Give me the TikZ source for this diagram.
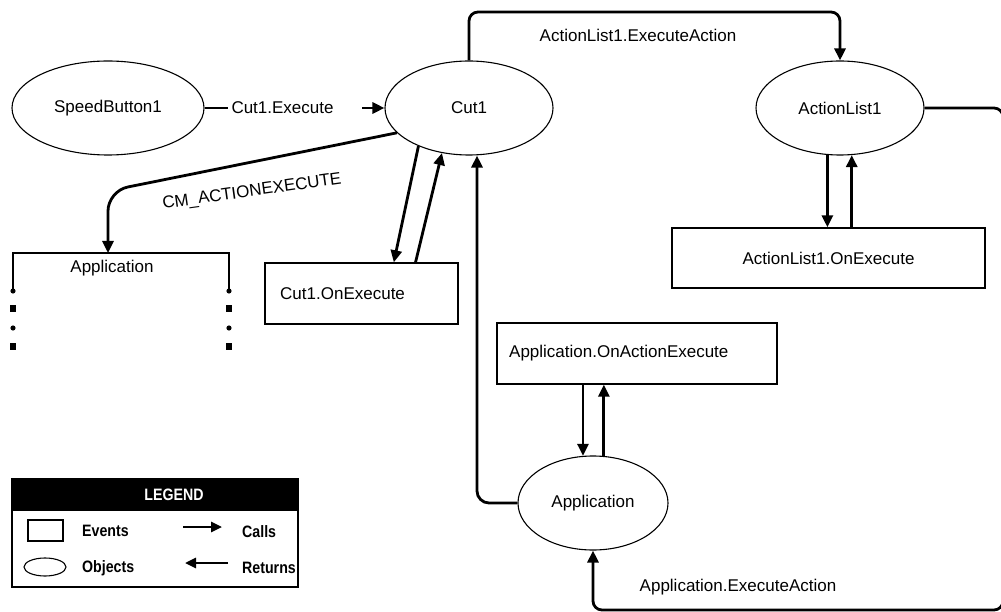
\documentclass[tikz,border=0pt]{standalone}
\usepackage{fontspec}
\setmainfont{Liberation Sans}
\newfontfamily\legfont[FakeStretch=0.86]{Liberation Sans Bold}
\usetikzlibrary{shapes.geometric,arrows.meta}
\tikzset{
  obj/.style={ellipse, draw, line width=1.1pt, inner sep=0pt, font=\fontsize{17}{20}\selectfont},
  evt/.style={rectangle, draw, line width=1.4pt, inner sep=0pt, font=\fontsize{17}{20}\selectfont},
  lbl/.style={inner sep=1pt, font=\fontsize{17}{20}\selectfont},
  conn/.style={line width=2.8pt, -{Triangle[length=12pt,width=11pt]}},
  plain/.style={line width=2.8pt},
  leg/.style={inner sep=0pt, anchor=west, font=\fontsize{16.5}{19}\legfont}
}
\begin{document}
\begin{tikzpicture}[x=1pt,y=-1pt]
\useasboundingbox (0,0) rectangle (1001,612);
\fill[white] (0,0) rectangle (1001,612);

% objects
\node[obj, minimum width=192pt, minimum height=94pt] (sb) at (108,108) {SpeedButton1};
\node[obj, minimum width=168pt, minimum height=94pt] (cut) at (469,108) {Cut1};
\node[obj, minimum width=168pt, minimum height=94pt] (al) at (840,108) {ActionList1};
\node[obj, minimum width=150pt, minimum height=94pt] (app) at (593,503) {Application};

% events
\node[evt, minimum width=193pt, minimum height=61pt] (cutev) at (361.5,293.5) {};
\node[lbl, anchor=west] (cutevt) at (279,294) {Cut1.OnExecute};
\node[evt, minimum width=313pt, minimum height=60pt] (alev) at (828.5,258) {ActionList1.OnExecute};
\node[evt, minimum width=280pt, minimum height=61pt] (appev) at (637,353.5) {};
\node[lbl, anchor=west] (appevt) at (508,353) {Application.OnActionExecute};

% Application bracket (left)
\coordinate (brk) at (108,253);
\draw[plain] (13,291) -- (13,253) -- (229,253) -- (229,291);
\foreach \xx in {13,229}{
  \fill (\xx,291) circle (2.6);
  \fill (\xx-2.6,305) rectangle (\xx+2.6,312);
  \fill (\xx,328) circle (2.6);
  \fill (\xx-2.6,343) rectangle (\xx+2.6,350);
}
\node[lbl] (brkt) at (112,268) {Application};

% SpeedButton1 -> Cut1
\draw[conn] (sb.east) -- node[lbl, fill=white, inner xsep=4pt, text width=126pt, align=left] (exl) {Cut1.Execute} (cut.west);

% Cut1 -> Application (CM_ACTIONEXECUTE)
\draw[conn, rounded corners=20pt] (cut.199) -- (108,191) -- (brk);
\node[lbl, rotate=8] (cml) at (252,192) {CM\_ACTIONEXECUTE};

% Cut1 <-> Cut1.OnExecute
\draw[conn] (cut.217) -- (cutev.44);
\draw[conn] (cutev.30) -- (cut.239);

% Cut1 -> ActionList1
\coordinate (top) at (0,12);
\draw[conn, rounded corners=9pt] (cut.north) -- (cut.north |- top) -- (al.north |- top) -- (al.north);
\node[lbl] (ael) at (638,35) {ActionList1.ExecuteAction};

% ActionList1 <-> ActionList1.OnExecute
\draw[conn] (al.255.5) -- (al.255.5 |- alev.north);
\draw[conn] (al.284.5 |- alev.north) -- (al.284.5);

% ActionList1 -> Application (around the right edge)
\coordinate (re1) at (1003,108);
\coordinate (re2) at (1003,610);
\draw[conn, rounded corners=9pt] (al.east) -- (re1) -- (re2) -- (app.south |- re2) -- (app.south);
\node[lbl] (aeal) at (738,587) {Application.ExecuteAction};

% Application.OnActionExecute <-> Application
\draw[conn] (app.102 |- appev.south) -- (app.102);
\draw[conn] (app.77) -- (app.77 |- appev.south);

% Application -> Cut1 (return)
\coordinate (vx) at (477,0);
\draw[conn, rounded corners=12pt] (app.west) -- (app.west -| vx) -- (cut.south -| vx);

% legend
\draw[line width=1.5pt] (12,479) rectangle (298,587);
\fill (12,479) rectangle (298,511);
\node[leg, anchor=center, text=white] (legt) at (174,495) {LEGEND};
\draw[line width=1.5pt] (28,520) rectangle (63,541);
\node[leg] (lev) at (82,531) {Events};
\draw[line width=1.1pt] (45,567) ellipse (21 and 9);
\node[leg] (lob) at (82,568) {Objects};
\draw[line width=2.6pt, -{Triangle[length=11pt,width=10pt]}] (183,527) -- (222,527);
\node[leg] (lca) at (242,532) {Calls};
\draw[line width=2.6pt, -{Triangle[length=11pt,width=10pt]}] (228,563) -- (185,563);
\node[leg] (lre) at (242,568) {Returns};
\end{tikzpicture}
\end{document}
